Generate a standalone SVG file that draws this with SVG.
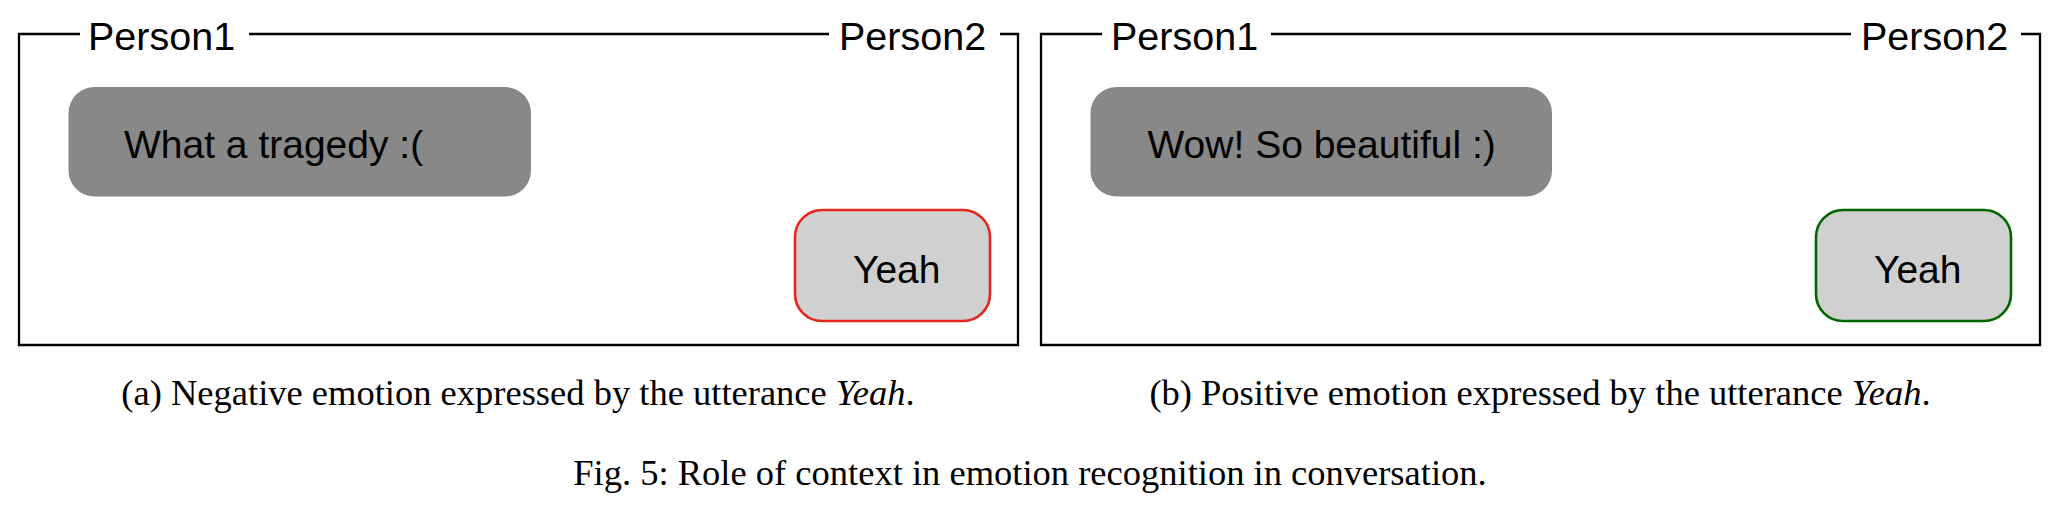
<svg xmlns="http://www.w3.org/2000/svg" width="2060" height="506" viewBox="0 0 2060 506">
<style>
.frame{fill:none;stroke:#000;stroke-width:2.3}
.lbl{font-family:"Liberation Sans",Arial,Helvetica,sans-serif;font-size:39.5px;fill:#000}
.utt{font-family:"Liberation Sans",Arial,Helvetica,sans-serif;font-size:39px;fill:#000}
.ctx{fill:#888888;stroke:none}
.tgt{fill:#d0d0d0;stroke-width:2.6}
.neg{stroke:#e5261c}
.pos{stroke:#006600}
.cap{font-family:"Liberation Serif","Times New Roman",Times,serif;font-size:36.5px;fill:#000;text-anchor:middle}
</style>
<rect width="2060" height="506" fill="#fff"/>
<g id="connectors">
<path class="frame" d="M80,34 H19 V345 H1018 V34 H1000 M249,34 H829"/>
<path class="frame" d="M1102,34 H1041 V345 H2040 V34 H2021 M1271,34 H1851"/>
</g>
<g id="panel-a">
<g id="a-person1"><text class="lbl" x="88" y="50">Person1</text></g>
<g id="a-person2"><text class="lbl" x="839" y="50">Person2</text></g>
<g id="a-context"><rect class="ctx" x="68.5" y="87" width="462.5" height="109.5" rx="26" ry="26"/><text class="utt" x="124" y="158">What a tragedy :(</text></g>
<g id="a-target"><rect class="tgt neg" x="795" y="210" width="195" height="111" rx="27" ry="27"/><text class="utt" x="853" y="283">Yeah</text></g>
<g id="a-caption"><text class="cap" x="518" y="405">(a) Negative emotion expressed by the utterance <tspan font-style="italic">Yeah</tspan>.</text></g>
</g>
<g id="panel-b">
<g id="b-person1"><text class="lbl" x="1111" y="50">Person1</text></g>
<g id="b-person2"><text class="lbl" x="1861" y="50">Person2</text></g>
<g id="b-context"><rect class="ctx" x="1090.5" y="87" width="461.5" height="109.5" rx="26" ry="26"/><text class="utt" x="1147.5" y="158">Wow! So beautiful :)</text></g>
<g id="b-target"><rect class="tgt pos" x="1816" y="210" width="195" height="111" rx="27" ry="27"/><text class="utt" x="1874" y="283">Yeah</text></g>
<g id="b-caption"><text class="cap" x="1540" y="405">(b) Positive emotion expressed by the utterance <tspan font-style="italic">Yeah</tspan>.</text></g>
</g>
<g id="figure-caption"><text class="cap" x="1030" y="485">Fig. 5: Role of context in emotion recognition in conversation.</text></g>
</svg>
